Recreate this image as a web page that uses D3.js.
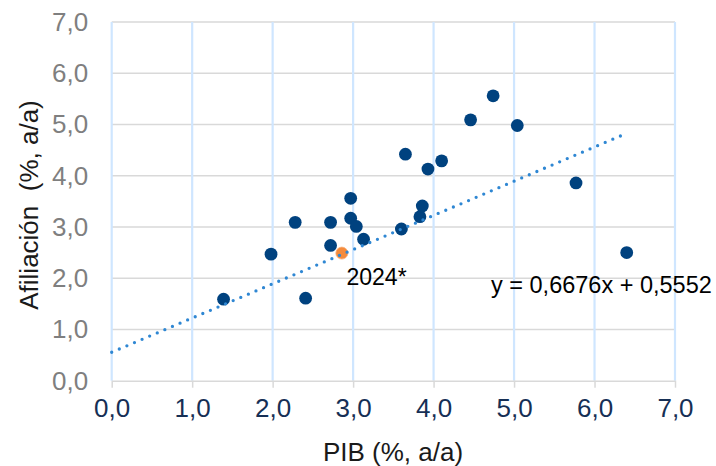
<!DOCTYPE html>
<html>
<head>
<meta charset="utf-8">
<script src="https://cdn.jsdelivr.net/npm/d3@7"></script>
<style>
  html, body { margin: 0; padding: 0; background: #ffffff; }
  svg { display: block; font-family: "Liberation Sans", Arial, sans-serif; }
</style>
</head>
<body>
<svg id="chart" width="716" height="466"></svg>
<script>
// Crecimiento anual del PIB frente a la afiliación (%, a/a)
const pibHist  = [1.39, 1.98, 2.28, 2.41, 2.72, 2.72, 2.97, 2.97, 3.04, 3.13, 3.60, 3.65, 3.83, 3.86, 3.93, 4.10, 4.46, 4.74, 5.04, 5.77, 6.40];
const afilHist = [1.59, 2.47, 3.09, 1.61, 3.09, 2.64, 3.56, 3.17, 3.01, 2.76, 2.96, 4.42, 3.20, 3.41, 4.13, 4.29, 5.09, 5.56, 4.98, 3.86, 2.50];
const pib2024  = [2.86];
const afil2024 = [2.49];
const label2024 = "2024*";
const trendSlope = 0.6676;
const trendIntercept = 0.5552;
const axisTicks = [0, 1, 2, 3, 4, 5, 6, 7];

const esLocale = d3.formatLocale({ decimal: ",", thousands: ".", grouping: [3], currency: ["", " €"] });
const fmt = esLocale.format(".1f");
const fmtCoef = esLocale.format(".4f");

const svg = d3.select("#chart");
const x = d3.scaleLinear().domain([0, 7]).range([111.7, 675]);
const y = d3.scaleLinear().domain([0, 7]).range([380.7, 22]);

// horizontal gridlines (grey)
svg.append("g").selectAll("line").data(axisTicks.filter(d => d > 0)).join("line")
  .attr("x1", x(0)).attr("x2", x(7))
  .attr("y1", d => y(d)).attr("y2", d => y(d))
  .attr("stroke", "#d9d9d9").attr("stroke-width", 1.5);

// vertical gridlines (light blue)
svg.append("g").selectAll("line").data(axisTicks).join("line")
  .attr("x1", d => x(d)).attr("x2", d => x(d))
  .attr("y1", y(7)).attr("y2", y(0))
  .attr("stroke", "#cfe6ff").attr("stroke-width", 2.2);

// x axis line and ticks
const xAxis = svg.append("g").attr("transform", `translate(0,${y(0)})`)
  .call(d3.axisBottom(x).tickValues(axisTicks).tickSize(7).tickSizeOuter(0).tickPadding(11).tickFormat(fmt));
xAxis.select(".domain").attr("stroke", "#d9d9d9").attr("stroke-width", 1.5);
xAxis.selectAll(".tick line").attr("stroke", "#d9d9d9").attr("stroke-width", 1.5);
xAxis.selectAll(".tick text")
  .attr("font-family", "Liberation Sans, Arial, sans-serif")
  .attr("font-size", 26).attr("fill", "#162f55");

// y axis labels
const yAxis = svg.append("g").attr("transform", `translate(${x(0)},0)`)
  .call(d3.axisLeft(y).tickValues(axisTicks).tickSize(0).tickPadding(23.5).tickFormat(fmt));
yAxis.select(".domain").remove();
yAxis.selectAll(".tick text")
  .attr("font-family", "Liberation Sans, Arial, sans-serif")
  .attr("font-size", 26).attr("fill", "#7f7f7f");

// axis titles
svg.append("text")
  .attr("x", 393).attr("y", 461)
  .attr("text-anchor", "middle")
  .attr("font-size", 26).attr("fill", "#1a1a1a")
  .text("PIB (%, a/a)");

svg.append("text")
  .attr("transform", "translate(38,205) rotate(-90)")
  .attr("text-anchor", "middle")
  .attr("font-size", 26).attr("fill", "#1a1a1a")
  .style("white-space", "pre")
  .text("Afiliación  (%, a/a)");

// data points
const pts = pibHist.map((v, i) => ({ pib: v, afil: afilHist[i] }));
svg.append("g").selectAll("circle").data(pts).join("circle")
  .attr("cx", d => x(d.pib)).attr("cy", d => y(d.afil))
  .attr("r", 6.4).attr("fill", "#00427f");

const pts24 = pib2024.map((v, i) => ({ pib: v, afil: afil2024[i] }));
svg.append("g").selectAll("circle").data(pts24).join("circle")
  .attr("cx", d => x(d.pib)).attr("cy", d => y(d.afil))
  .attr("r", 6).attr("fill", "#f58b3c").attr("stroke", "#f8b07a").attr("stroke-width", 0.8);

// linear trend line
const xMax = d3.max(pibHist.concat(pib2024));
const trend = [0, xMax].map(v => [v, trendSlope * v + trendIntercept]);
svg.append("path")
  .attr("d", d3.line().x(d => x(d[0])).y(d => y(d[1]))(trend))
  .attr("fill", "none").attr("stroke", "#2f87d3").attr("stroke-width", 3.3)
  .attr("stroke-linecap", "round").attr("stroke-dasharray", "0 8.25");

// labels
svg.append("text")
  .attr("x", 346.5).attr("y", 285)
  .attr("font-size", 23).attr("fill", "#000000")
  .text(label2024);

svg.append("text")
  .attr("x", 491).attr("y", 292.7)
  .attr("font-size", 23.5).attr("fill", "#000000")
  .text(`y = ${fmtCoef(trendSlope)}x + ${fmtCoef(trendIntercept)}`);
</script>
</body>
</html>
